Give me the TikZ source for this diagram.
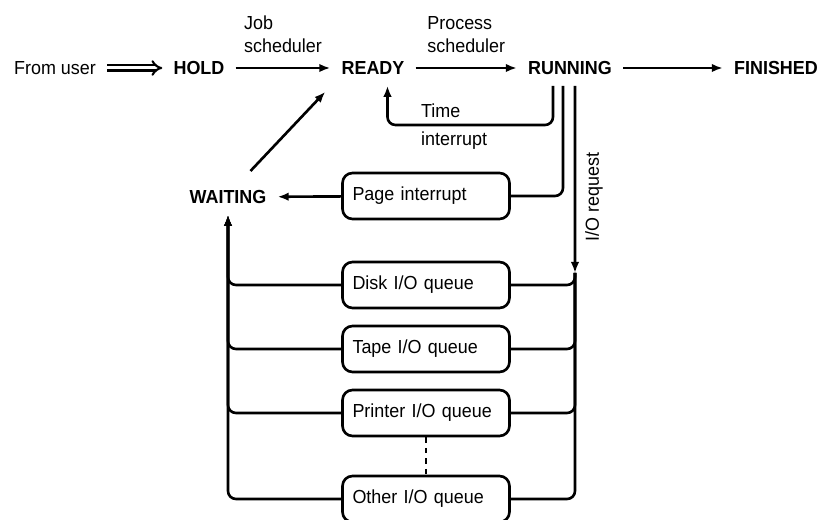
\documentclass[tikz,border=0pt]{standalone}
\usepackage{fontspec}
\setmainfont{Liberation Sans}[FakeStretch=0.95]
\usetikzlibrary{arrows.meta}

\begin{document}
\begin{tikzpicture}[x=0.02cm,y=-0.02cm,line width=1.5pt,line join=round,
		font=\fontsize{10.75}{13}\selectfont,
		>={Latex[length=0.22cm,width=0.17cm]},
		state/.style={font=\fontsize{10.75}{13}\selectfont\bfseries,inner xsep=0.2cm,inner ysep=0.2cm},
		queue/.style={draw,rounded corners=0.2cm,minimum height=0.92cm,text width=2.94cm,inner xsep=0.2cm,align=left},
		bus/.style={rounded corners=0.16cm}]
		\useasboundingbox (0,0) rectangle (823,520);
		% states
		\node[inner xsep=0.2cm] (user) at (55,68) {From user};
		\node[state] (hold) at (199,68) {HOLD};
		\node[state] (ready) at (373,68) {READY};
		\node[state] (running) at (570,68) {RUNNING};
		\node[state] (finished) at (776,68) {FINISHED};
		\node[state] (waiting) at (228,197) {WAITING};
		% boxes
		\node[queue] (page) at (426,196) {Page interrupt};
		\node[queue] (disk) at (426,285) {Disk I/O queue};
		\node[queue] (tape) at (426,349) {Tape I/O queue};
		\node[queue] (printer) at (426,413) {Printer I/O queue};
		\node[queue] (other) at (426,499) {Other I/O queue};
		\node[anchor=west,align=left] (timelbl) at (414,127) {Time\\[3pt]interrupt};
		\node[rotate=90] (iolbl) at (594,197) {I/O request};
		\coordinate (timeloop) at (470,125);
		\coordinate (iotip) at (575,273);
		% top row
		\draw[double,double distance=0.06cm,line width=1.2pt,-{Implies[scale=1.3]}] (user) -- (hold);
		\draw[->] (hold) -- node[above=0.17cm,align=left]{Job\\scheduler} (ready);
		\draw[->] (ready) -- node[above=0.17cm,align=left]{Process\\scheduler} (running);
		\draw[->] (running) -- (finished);
		% out of running
		\draw[->,bus] ([xshift=-0.34cm]running.south) |- (timeloop) -| ([xshift=0.29cm]ready.south);
		\draw[bus] ([xshift=-0.14cm]running.south) |- (page.east);
		\draw[->] ([xshift=0.1cm]running.south) -- (iotip);
		\draw[->] (page) -- (waiting);
		\draw[->] ([shift={(0.45cm,0.16cm)}]waiting.north) -- ([shift={(-0.1cm,-0.12cm)}]ready.south west);
		% I/O queues
		\foreach \q in {disk,tape,printer,other}{
			\draw[bus] (\q.east) -| (iotip);
			\draw[->,bus] (\q.west) -| (waiting.south);
		}
		\draw[dashed,line width=1pt] (printer) -- (other);
\end{tikzpicture}
\end{document}
